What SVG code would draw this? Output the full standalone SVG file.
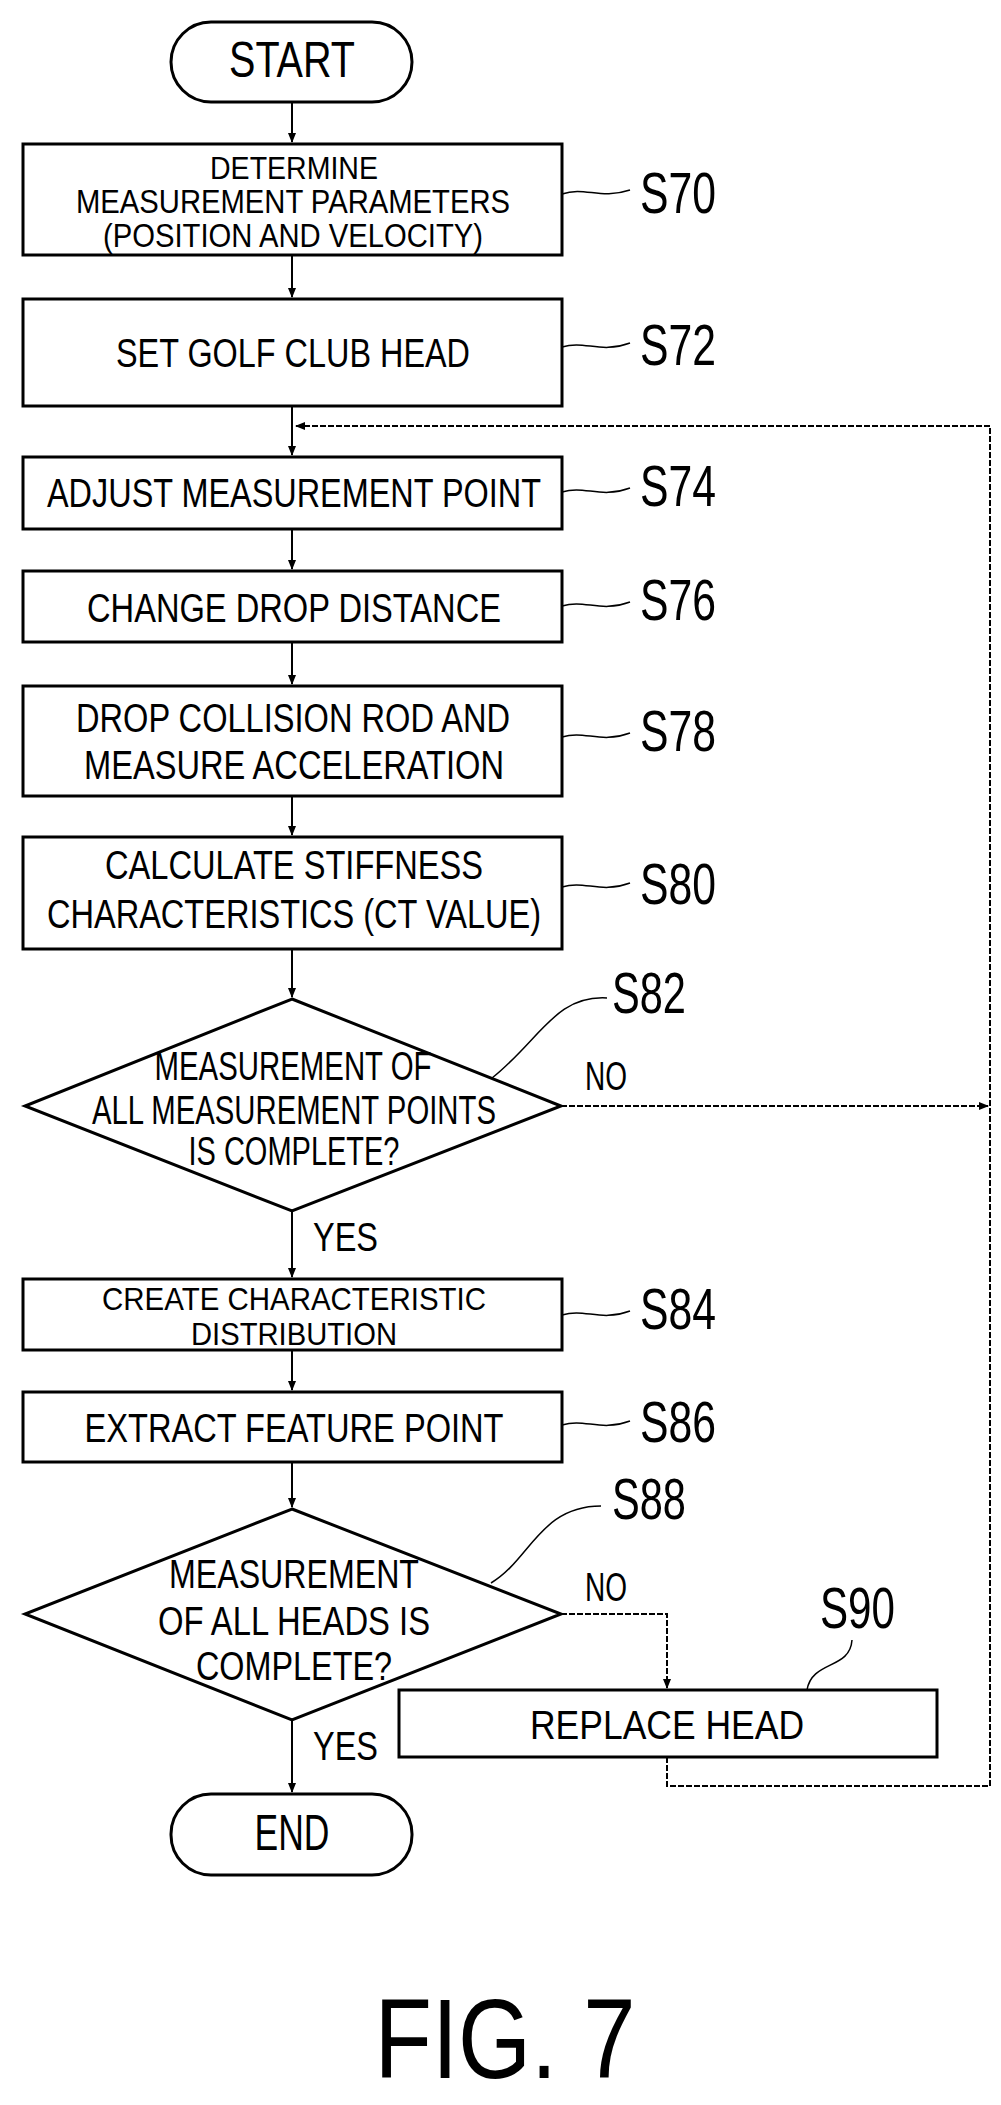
<svg xmlns="http://www.w3.org/2000/svg" width="1001" height="2105" viewBox="0 0 1001 2105">
<style>
.b{fill:#fff;stroke:#000;stroke-width:3}
.t{font-family:"Liberation Sans",Arial,sans-serif;font-size:40px;fill:#000}
.s{font-family:"Liberation Sans",Arial,sans-serif;font-size:58px;fill:#000}
.c{fill:none;stroke:#000;stroke-width:2}
.d{fill:none;stroke:#000;stroke-width:2;stroke-dasharray:6 2}
.l{fill:none;stroke:#000;stroke-width:1.5}
</style>
<defs><marker id="a" markerWidth="10" markerHeight="10" refX="9" refY="5" orient="auto" markerUnits="userSpaceOnUse"><path d="M0,1 L10,5 L0,9 z" fill="#000"/></marker></defs>
<rect width="1001" height="2105" fill="#fff"/>
<g id="connectors">
<path class="c" d="M292,102 V142" marker-end="url(#a)"/>
<path class="c" d="M292,255 V297" marker-end="url(#a)"/>
<path class="c" d="M292,406 V455" marker-end="url(#a)"/>
<path class="c" d="M292,529 V569" marker-end="url(#a)"/>
<path class="c" d="M292,642 V684" marker-end="url(#a)"/>
<path class="c" d="M292,796 V835" marker-end="url(#a)"/>
<path class="c" d="M292,949 V997" marker-end="url(#a)"/>
<path class="c" d="M292,1211 V1277" marker-end="url(#a)"/>
<path class="c" d="M292,1350 V1390" marker-end="url(#a)"/>
<path class="c" d="M292,1462 V1507" marker-end="url(#a)"/>
<path class="c" d="M292,1720 V1792" marker-end="url(#a)"/>
<path class="d" d="M561,1106 H988" marker-end="url(#a)"/>
<path class="d" d="M561,1614 H667 V1688" marker-end="url(#a)"/>
<path class="d" d="M667,1757 V1786 H990 V426 H296" marker-end="url(#a)"/>
<path class="l" d="M562,194 C585,186 600,200 630,190"/>
<path class="l" d="M562,347 C585,340 600,354 630,343"/>
<path class="l" d="M562,492 C585,485 600,499 630,488"/>
<path class="l" d="M562,606 C585,599 600,613 630,602"/>
<path class="l" d="M562,737 C585,730 600,744 630,733"/>
<path class="l" d="M562,887 C585,880 600,894 630,883"/>
<path class="l" d="M492,1078 C540,1040 555,995 607,998"/>
<path class="l" d="M562,1315 C585,1308 600,1322 630,1311"/>
<path class="l" d="M562,1425 C585,1418 600,1432 630,1421"/>
<path class="l" d="M491,1583 C530,1560 540,1506 601,1506"/>
<path class="l" d="M807,1690 C812,1660 850,1670 852,1640"/>
</g>
<g id="start"><rect class="b" x="171" y="22" width="241" height="80" rx="40"/><text class="s" x="292" y="77" text-anchor="middle" textLength="126" lengthAdjust="spacingAndGlyphs" style="font-size:50px">START</text></g>
<g id="s70"><rect class="b" x="23" y="144" width="539" height="111"/>
<text class="t" x="294" y="179" text-anchor="middle" textLength="168" lengthAdjust="spacingAndGlyphs" style="font-size:31px">DETERMINE</text>
<text class="t" x="293" y="213" text-anchor="middle" textLength="434" lengthAdjust="spacingAndGlyphs" style="font-size:33px">MEASUREMENT PARAMETERS</text>
<text class="t" x="293" y="247" text-anchor="middle" textLength="380" lengthAdjust="spacingAndGlyphs" style="font-size:33px">(POSITION AND VELOCITY)</text>
<text class="s" x="640" y="213" textLength="76" lengthAdjust="spacingAndGlyphs">S70</text></g>
<g id="s72"><rect class="b" x="23" y="299" width="539" height="107"/>
<text class="t" x="293" y="367" text-anchor="middle" textLength="354" lengthAdjust="spacingAndGlyphs">SET GOLF CLUB HEAD</text>
<text class="s" x="640" y="365" textLength="76" lengthAdjust="spacingAndGlyphs">S72</text></g>
<g id="s74"><rect class="b" x="23" y="457" width="539" height="72"/>
<text class="t" x="294" y="507" text-anchor="middle" textLength="494" lengthAdjust="spacingAndGlyphs">ADJUST MEASUREMENT POINT</text>
<text class="s" x="640" y="506" textLength="76" lengthAdjust="spacingAndGlyphs">S74</text></g>
<g id="s76"><rect class="b" x="23" y="571" width="539" height="71"/>
<text class="t" x="294" y="622" text-anchor="middle" textLength="414" lengthAdjust="spacingAndGlyphs">CHANGE DROP DISTANCE</text>
<text class="s" x="640" y="620" textLength="76" lengthAdjust="spacingAndGlyphs">S76</text></g>
<g id="s78"><rect class="b" x="23" y="686" width="539" height="110"/>
<text class="t" x="293" y="732" text-anchor="middle" textLength="434" lengthAdjust="spacingAndGlyphs">DROP COLLISION ROD AND</text>
<text class="t" x="294" y="779" text-anchor="middle" textLength="420" lengthAdjust="spacingAndGlyphs">MEASURE ACCELERATION</text>
<text class="s" x="640" y="751" textLength="76" lengthAdjust="spacingAndGlyphs">S78</text></g>
<g id="s80"><rect class="b" x="23" y="837" width="539" height="112"/>
<text class="t" x="294" y="879" text-anchor="middle" textLength="378" lengthAdjust="spacingAndGlyphs">CALCULATE STIFFNESS</text>
<text class="t" x="294" y="928" text-anchor="middle" textLength="494" lengthAdjust="spacingAndGlyphs">CHARACTERISTICS (CT VALUE)</text>
<text class="s" x="640" y="904" textLength="76" lengthAdjust="spacingAndGlyphs">S80</text></g>
<g id="s82"><path class="b" d="M292,999 L561,1106 L292,1211 L25,1106 Z"/>
<text class="t" x="293" y="1080" text-anchor="middle" textLength="277" lengthAdjust="spacingAndGlyphs">MEASUREMENT OF</text>
<text class="t" x="294" y="1124" text-anchor="middle" textLength="404" lengthAdjust="spacingAndGlyphs">ALL MEASUREMENT POINTS</text>
<text class="t" x="294" y="1165" text-anchor="middle" textLength="211" lengthAdjust="spacingAndGlyphs">IS COMPLETE?</text>
<text class="s" x="612" y="1013" textLength="74" lengthAdjust="spacingAndGlyphs">S82</text>
<text class="t" x="585" y="1090" textLength="42" lengthAdjust="spacingAndGlyphs">NO</text>
<text class="t" x="313" y="1251" textLength="65" lengthAdjust="spacingAndGlyphs">YES</text></g>
<g id="s84"><rect class="b" x="23" y="1279" width="539" height="71"/>
<text class="t" x="294" y="1310" text-anchor="middle" textLength="384" lengthAdjust="spacingAndGlyphs" style="font-size:31px">CREATE CHARACTERISTIC</text>
<text class="t" x="294" y="1345" text-anchor="middle" textLength="206" lengthAdjust="spacingAndGlyphs" style="font-size:31px">DISTRIBUTION</text>
<text class="s" x="640" y="1329" textLength="76" lengthAdjust="spacingAndGlyphs">S84</text></g>
<g id="s86"><rect class="b" x="23" y="1392" width="539" height="70"/>
<text class="t" x="294" y="1442" text-anchor="middle" textLength="419" lengthAdjust="spacingAndGlyphs">EXTRACT FEATURE POINT</text>
<text class="s" x="640" y="1442" textLength="76" lengthAdjust="spacingAndGlyphs">S86</text></g>
<g id="s88"><path class="b" d="M292,1509 L561,1614 L292,1720 L25,1614 Z"/>
<text class="t" x="294" y="1588" text-anchor="middle" textLength="250" lengthAdjust="spacingAndGlyphs">MEASUREMENT</text>
<text class="t" x="294" y="1635" text-anchor="middle" textLength="272" lengthAdjust="spacingAndGlyphs">OF ALL HEADS IS</text>
<text class="t" x="294" y="1680" text-anchor="middle" textLength="196" lengthAdjust="spacingAndGlyphs">COMPLETE?</text>
<text class="s" x="612" y="1519" textLength="74" lengthAdjust="spacingAndGlyphs">S88</text>
<text class="t" x="585" y="1601" textLength="42" lengthAdjust="spacingAndGlyphs">NO</text>
<text class="t" x="313" y="1760" textLength="65" lengthAdjust="spacingAndGlyphs">YES</text></g>
<g id="s90"><rect class="b" x="399" y="1690" width="538" height="67"/>
<text class="t" x="667" y="1739" text-anchor="middle" textLength="274" lengthAdjust="spacingAndGlyphs">REPLACE HEAD</text>
<text class="s" x="820" y="1628" textLength="75" lengthAdjust="spacingAndGlyphs">S90</text></g>
<g id="end"><rect class="b" x="171" y="1794" width="241" height="81" rx="40"/><text class="s" x="292" y="1850" text-anchor="middle" textLength="75" lengthAdjust="spacingAndGlyphs" style="font-size:50px">END</text></g>
<text x="505" y="2078" text-anchor="middle" font-family="Liberation Sans, Arial, sans-serif" font-size="114" textLength="261" lengthAdjust="spacingAndGlyphs">FIG. 7</text>
</svg>
